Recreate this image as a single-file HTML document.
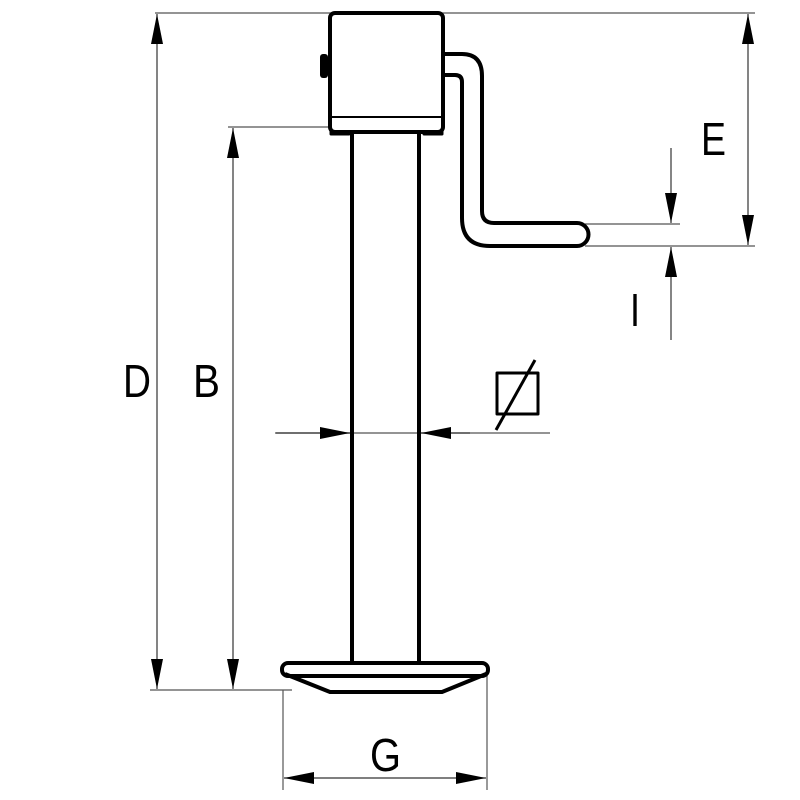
<!DOCTYPE html>
<html><head><style>body{margin:0;background:#fff}svg{display:block}</style></head><body>
<svg width="800" height="800" viewBox="0 0 800 800" xmlns="http://www.w3.org/2000/svg">
<defs>
<marker id="b" viewBox="0 0 30 12" refX="30" refY="6" markerWidth="30" markerHeight="12" orient="auto-start-reverse" markerUnits="userSpaceOnUse"><path d="M0,0L30,6L0,12z" fill="#000"/></marker>
</defs>
<g stroke="#555" stroke-width="1.2" fill="none">
<line x1="155" y1="13" x2="755" y2="13"/>
<line x1="228" y1="127" x2="330" y2="127"/>
<line x1="150" y1="690" x2="292" y2="690"/>
<line x1="283" y1="690" x2="283" y2="790"/>
<line x1="487" y1="672" x2="487" y2="790"/>
<line x1="585" y1="246" x2="755" y2="246"/>
<line x1="585" y1="224" x2="680" y2="224"/>
<line x1="275" y1="433" x2="550" y2="433"/>
</g>
<g stroke="#333" stroke-width="1.2" fill="none">
<line x1="157" y1="14" x2="157" y2="689" marker-start="url(#b)" marker-end="url(#b)"/>
<line x1="233" y1="128" x2="233" y2="689" marker-start="url(#b)" marker-end="url(#b)"/>
<line x1="284" y1="778" x2="486" y2="778" marker-start="url(#b)" marker-end="url(#b)"/>
<line x1="748" y1="14" x2="748" y2="245" marker-start="url(#b)" marker-end="url(#b)"/>
<line x1="671" y1="148" x2="671" y2="223" marker-end="url(#b)"/>
<line x1="671" y1="340" x2="671" y2="247" marker-end="url(#b)"/>
<line x1="276" y1="433" x2="350" y2="433" marker-end="url(#b)"/>
<line x1="470" y1="433" x2="421" y2="433" marker-end="url(#b)"/>
</g>
<rect x="320" y="54" width="8" height="24" rx="3" fill="#000"/>
<g stroke="#000" stroke-width="4" fill="none" stroke-linejoin="round">
<rect x="330" y="13" width="113" height="119" rx="5" fill="#fff"/>
<line x1="330" y1="117" x2="443" y2="117" stroke-width="2"/>
<path d="M331,131 v3 h18 v-3 M424,131 v3 h18 v-3" stroke-width="3"/>
<line x1="352" y1="133" x2="352" y2="665"/>
<line x1="419" y1="133" x2="419" y2="665"/>
<path d="M444,54 H462 Q482,54 482,76 V211 Q482,223 494,223 H577 A11.5,11.5 0 0 1 577,246 H490 Q462,246 462,218 V82 Q462,75 455,75 H444"/>
<rect x="282" y="663" width="206" height="13" rx="6"/>
<path d="M285,674 L330,692 H442 L486,674"/>
<rect x="497" y="373" width="41" height="41" stroke-width="3"/>
<line x1="496" y1="430" x2="535" y2="360" stroke-width="3"/>
</g>
<g font-family="Liberation Sans, sans-serif" font-size="46" fill="#000">
<text x="123" y="397" textLength="28" lengthAdjust="spacingAndGlyphs">D</text>
<text x="193" y="397" textLength="27" lengthAdjust="spacingAndGlyphs">B</text>
<text x="701" y="155" textLength="25" lengthAdjust="spacingAndGlyphs">E</text>
<text x="630" y="326" textLength="10" lengthAdjust="spacingAndGlyphs">I</text>
<text x="370" y="771" textLength="31" lengthAdjust="spacingAndGlyphs">G</text>
</g>
</svg>
</body></html>
